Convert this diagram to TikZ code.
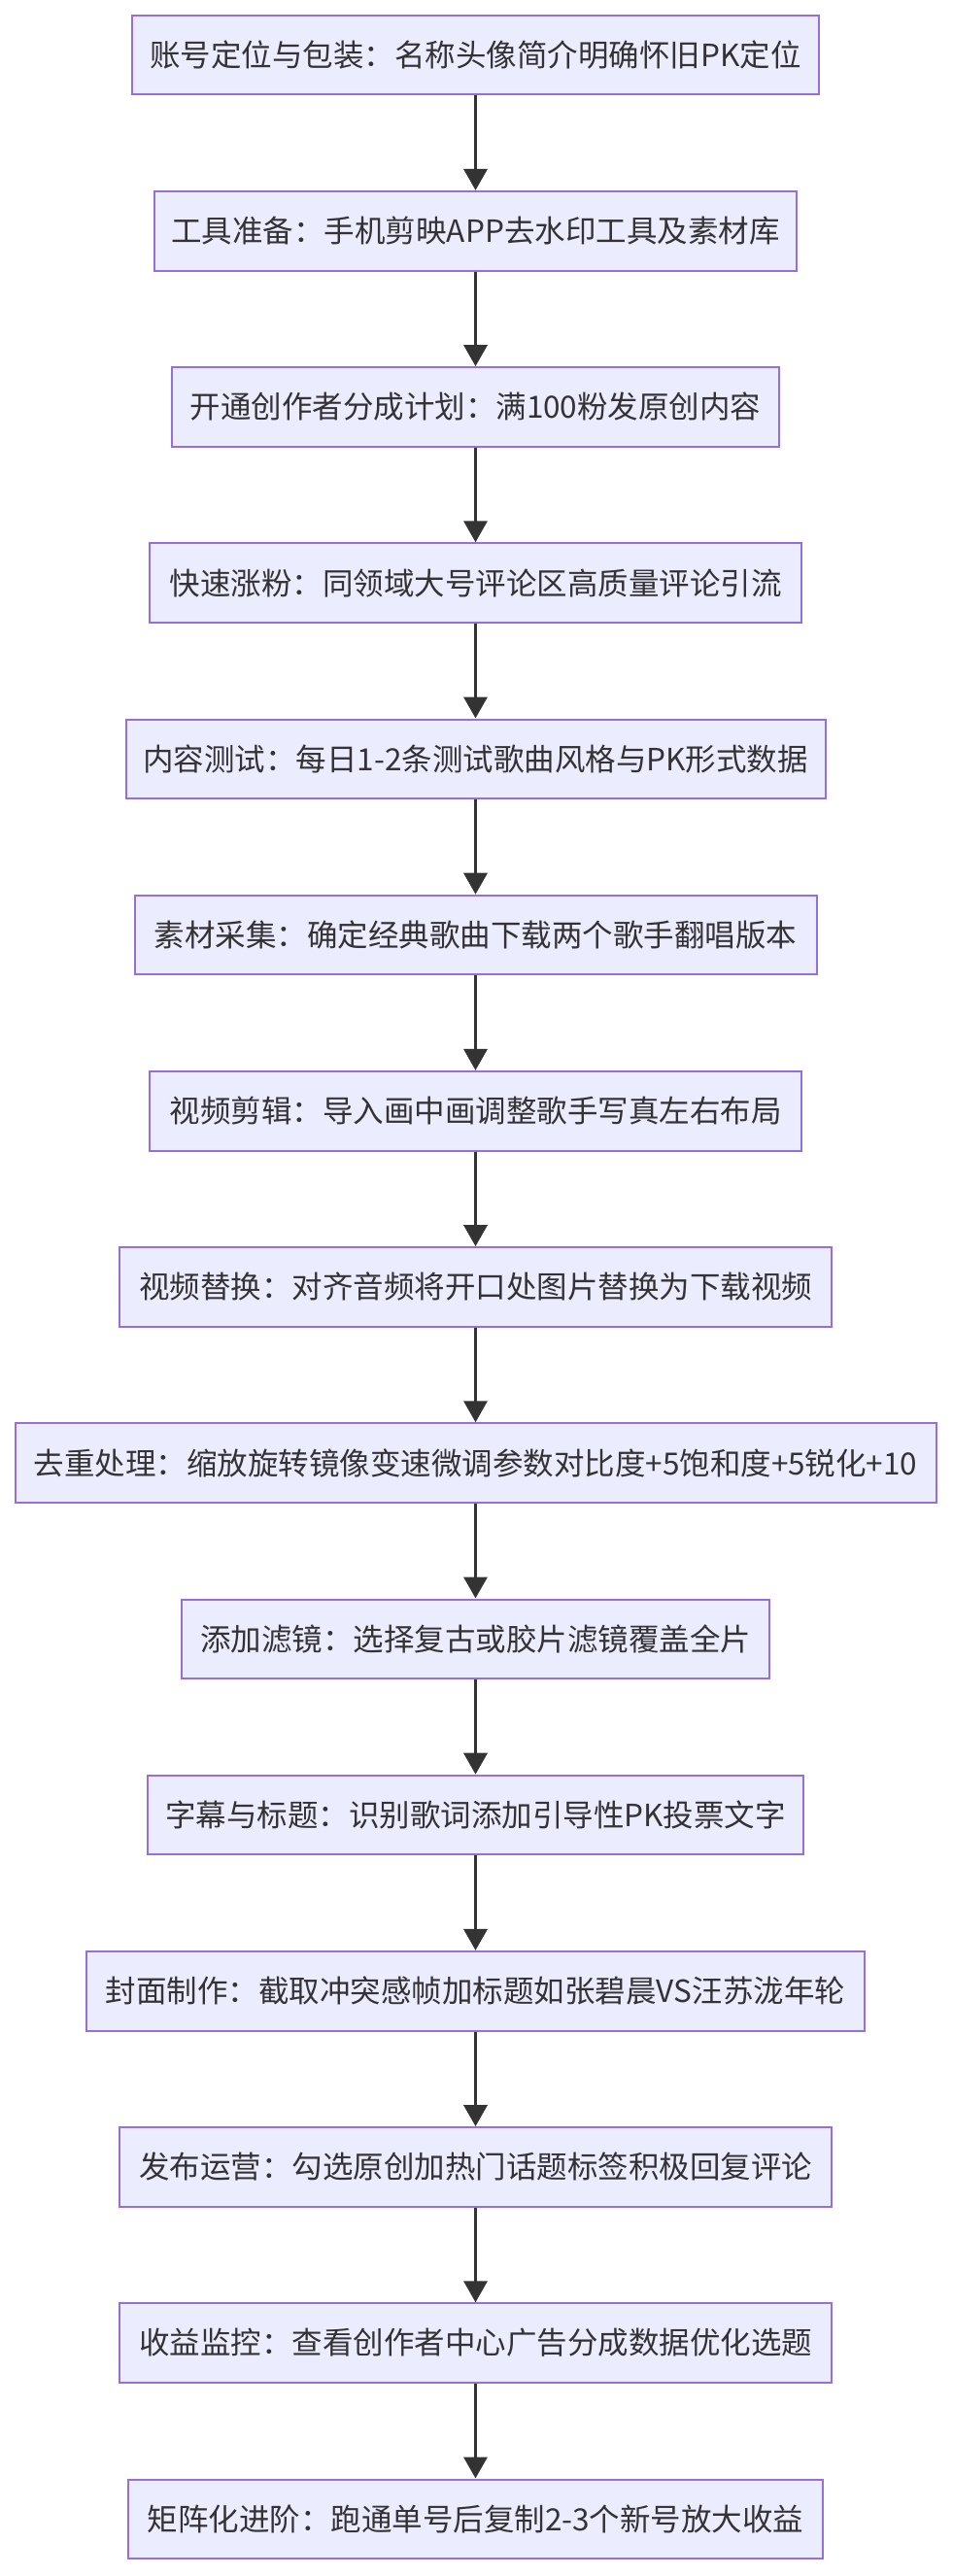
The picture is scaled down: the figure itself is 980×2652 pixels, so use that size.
\documentclass[tikz,border=0pt]{standalone}
\usepackage{fontspec}
\setmainfont{Noto Sans CJK SC}
\usetikzlibrary{arrows.meta}
\definecolor{boxfill}{HTML}{ECECFF}
\definecolor{boxline}{HTML}{9370DB}
\definecolor{ink}{HTML}{333333}
\tikzset{
  stepbox/.style={draw=boxline, fill=boxfill, line width=2pt, minimum height=81.6pt,
    inner sep=0pt, text=ink, font=\fontsize{31.5}{38}\selectfont, anchor=center},
  flow/.style={draw=ink, line width=3.5pt, -{Triangle[length=22pt,width=24pt]}}
}
\begin{document}
\begin{tikzpicture}[x=1pt,y=-1pt]
\useasboundingbox (0,0) rectangle (980,2652);
\def\cx{489.5}
\node[stepbox, minimum width=706.5pt] (n1) at (\cx,56.5) {账号定位与包装：名称头像简介明确怀旧PK定位};
\node[stepbox, minimum width=661pt] (n2) at (\cx,237.7) {工具准备：手机剪映APP去水印工具及素材库};
\node[stepbox, minimum width=624.5pt] (n3) at (\cx,418.9) {开通创作者分成计划：满100粉发原创内容};
\node[stepbox, minimum width=671pt] (n4) at (\cx,600.1) {快速涨粉：同领域大号评论区高质量评论引流};
\node[stepbox, minimum width=720pt] (n5) at (\cx,781.3) {内容测试：每日1-2条测试歌曲风格与PK形式数据};
\node[stepbox, minimum width=702pt] (n6) at (\cx,962.5) {素材采集：确定经典歌曲下载两个歌手翻唱版本};
\node[stepbox, minimum width=671pt] (n7) at (\cx,1143.7) {视频剪辑：导入画中画调整歌手写真左右布局};
\node[stepbox, minimum width=733.5pt] (n8) at (\cx,1324.9) {视频替换：对齐音频将开口处图片替换为下载视频};
\node[stepbox, minimum width=948pt] (n9) at (\cx,1506.1) {去重处理：缩放旋转镜像变速微调参数对比度+5饱和度+5锐化+10};
\node[stepbox, minimum width=605.5pt] (n10) at (\cx,1687.3) {添加滤镜：选择复古或胶片滤镜覆盖全片};
\node[stepbox, minimum width=674.5pt] (n11) at (\cx,1868.5) {字幕与标题：识别歌词添加引导性PK投票文字};
\node[stepbox, minimum width=801pt] (n12) at (\cx,2049.7) {封面制作：截取冲突感帧加标题如张碧晨VS汪苏泷年轮};
\node[stepbox, minimum width=733.5pt] (n13) at (\cx,2230.9) {发布运营：勾选原创加热门话题标签积极回复评论};
\node[stepbox, minimum width=733.5pt] (n14) at (\cx,2412.1) {收益监控：查看创作者中心广告分成数据优化选题};
\node[stepbox, minimum width=715.5pt] (n15) at (\cx,2593.3) {矩阵化进阶：跑通单号后复制2-3个新号放大收益};
\foreach \a/\b in {n1/n2,n2/n3,n3/n4,n4/n5,n5/n6,n6/n7,n7/n8,n8/n9,n9/n10,n10/n11,n11/n12,n12/n13,n13/n14,n14/n15}
  \draw[flow] (\a.south) -- (\b.north);
\end{tikzpicture}
\end{document}
